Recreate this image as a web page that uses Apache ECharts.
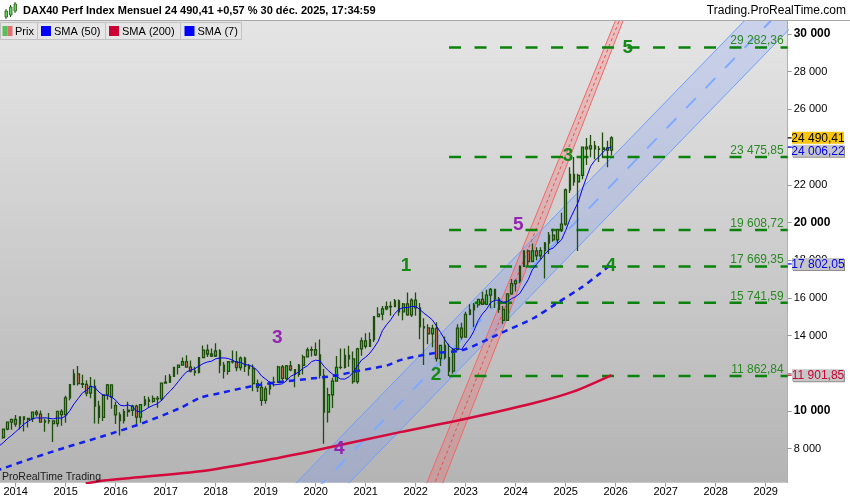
<!DOCTYPE html>
<html><head><meta charset="utf-8">
<script src="https://cdn.jsdelivr.net/npm/echarts@6/dist/echarts.min.js"></script>
<style>html,body{margin:0;padding:0;background:#fff}#c{width:850px;height:500px}</style>
</head><body><div id="c"></div>
<script>
// ---------- DATA ----------
const firstMonth = [2013, 10]; // first candle: Oct 2013, monthly
const open = [
 8594,9033,9405,
 9552,9306,9692,9556,9603,9943,9833,9407,9470,9474,9327,9980,
 9806,10694,11401,11966,11454,11413,10945,11309,10259,9660,10850,11382,
 10283,9798,9495,9966,10039,10263,9680,10337,10593,10511,10665,10640,
 11481,11535,11834,12313,12438,12615,12325,12118,12056,12829,13230,13024,
 12918,13189,12436,12097,12612,12605,12306,12806,12364,12247,11448,11257,
 10559,11173,11516,11526,12345,11727,12399,12189,11939,12428,12867,13236,
 13249,12982,11890,9936,10862,11587,12311,12313,12945,12761,11556,13291,
 13719,13433,13786,15008,15136,15421,15531,15544,15835,15261,15688,15100,
 15885,15471,14461,14415,14098,14388,12784,13484,12835,12114,13253,14397,
 13924,15128,15365,15629,15922,15664,16148,16447,15947,15387,14810,16215,
 16752,16904,17678,18492,17932,18498,18235,18509,18907,19325,19078,19626,
 19909,21732,22551,22163,22497,23997,23909,24065,23902,23881,23958,23837];
const high = [
 9050,9424,9594,
 9794,9717,9720,9643,9963,10050,10032,9601,9891,9515,9980,10093,
 10810,11401,12219,12391,11920,11635,11802,11670,10541,10908,11430,11392,
 10486,9937,10100,10486,10333,10336,10338,10802,10755,10827,10802,11482,
 11893,11959,12313,12456,12841,12951,12676,12345,12833,13479,13526,13314,
 13597,13271,12600,12640,13204,13170,12887,12873,12493,12461,11670,11566,
 11315,11581,11823,12398,12435,12438,12656,12190,12494,12988,13374,13425,
 13640,13795,12230,11230,11769,12913,13314,13310,13461,13161,13349,13903,
 14131,14169,15008,15502,15568,15803,15811,15939,15912,15727,16290,15979,
 16285,15736,14925,14597,14575,14709,13517,13948,13570,13339,14598,14676,
 15270,15658,15736,15922,16332,16427,16528,16470,16043,15575,16215,17003,
 16970,17678,18492,18567,18892,18692,18684,18970,19491,19675,19636,20523,
 21800,22935,23476,22580,24010,24479,24639,24320,24059,24771,24340,24580];
const low = [
 8534,8980,9000,
 9166,9017,8907,9120,9414,9710,9390,8903,9330,8355,9167,9219,
 9382,10566,11364,11350,11225,10780,10676,9338,9325,9469,10594,10124,
 9315,8699,9331,9700,9737,9214,9373,10256,10188,10443,10175,10530,
 11446,11479,11823,11935,12397,12292,12041,11868,11988,12829,12861,12861,
 12871,12003,11727,11928,12517,12104,12146,12068,11865,11051,11010,10279,
 10387,10864,11299,11507,11620,11620,12111,11266,11822,11938,12867,12886,
 12913,11725,8256,9395,10160,11571,12215,12253,12341,11450,11452,12927,
 13311,13430,13656,14980,14816,15350,15059,15530,15048,14818,15055,14982,
 15047,13807,12439,13535,13381,12618,12390,12733,11863,11976,13203,13792,
 13900,15080,14459,15482,15629,15649,15456,15469,15215,14630,14780,16173,
 16345,16781,17666,17715,17902,17991,18030,17024,18325,18976,18875,19501,
 19826,21569,21954,18490,22291,23051,23460,23351,23211,23439,22935,23551];
const close = [
 9033,9405,9552,
 9306,9692,9556,9603,9943,9833,9407,9470,9474,9327,9980,9806,
 10694,11401,11966,11454,11413,10945,11309,10259,9660,10850,11382,10743,
 9798,9495,9966,10039,10263,9680,10337,10593,10511,10665,10640,11481,
 11535,11834,12313,12438,12615,12325,12118,12056,12829,13230,13024,12918,
 13189,12436,12097,12612,12605,12306,12806,12364,12247,11448,11257,10559,
 11173,11516,11526,12345,11727,12399,12189,11939,12428,12867,13236,13249,
 12982,11890,9936,10862,11587,12311,12313,12945,12761,11556,13291,13719,
 13433,13786,15008,15136,15421,15531,15544,15835,15261,15688,15100,15885,
 15471,14461,14415,14098,14388,12784,13484,12835,12114,13253,14397,13924,
 15128,15365,15629,15922,15664,16148,16447,15947,15387,14810,16215,16752,
 16904,17678,18492,17932,18498,18235,18509,18907,19325,19078,19626,19909,
 21732,22551,22163,22497,23997,23909,24065,23902,23881,23958,23837,24490.41];
const seedCloses = [7795,7914,8349,7959,8276,8104,8594]; // Mar–Sep 2013 (for SMA 7)

const sma50Years  = [2013.6,2014.35,2015.03,2015.69,2016.49,2017.29,2017.69,2018.09,2018.75,2019.29,2020.35,2020.83,2021.43,2021.69,2022.35,2022.95,2023.69,2024.35,2024.82,2025.29,2025.69,2025.917];
const sma50Values = [6820,7510,8090,8620,9310,10160,10700,10950,11330,11540,11860,12120,12420,12700,13060,13240,14120,14920,15714,16510,17305,17802.05];
const sma200Years  = [2015.4,2015.69,2017.69,2019.03,2020.03,2021.69,2022.89,2024.35,2025.15,2025.917];
const sma200Values = [6150,6290,6800,7400,7930,8880,9520,10408,11024,11901.85];

const levels = [29282.36,23475.85,19608.72,17669.35,15741.59,11862.84];
const levelStart = 2022.667;

const blueUpper = [[2019.5,5888],[2029.6,33509]];
const blueMid   = [[2020.0,5806],[2029.6,32060]];
const blueLower = [[2020.5,5724],[2029.6,30610]];
const redLeft  = [[2022.15,5716],[2026.05,31069]];
const redMid   = [[2022.35,5970],[2026.10,30899]];
const redRight = [[2022.5,5895],[2026.2,31061]];

const greenWaveText = ['1','2','3','4','5'];
const greenWaveYears = [2021.806,2022.406,2025.046,2025.9,2026.24];
const greenWaveValues = [17692,11910,23528,17692,29294];
const purpleWaveText = ['3','4','5'];
const purpleWaveYears = [2019.232,2020.472,2024.052];
const purpleWaveValues = [13910,7984,19867];

const badgeValues = [24490.41,24006.22,17802.05,11901.85];
const yTickValues = [8000,10000,12000,14000,16000,18000,20000,22000,24000,26000,28000,30000];
const yLabelValues = [8000,10000,14000,16000,18000,20000,22000,26000,28000,30000];
const xTickYears = [2014,2015,2016,2017,2018,2019,2020,2021,2022,2023,2024,2025,2026,2027,2028,2029];

// ---------- BUILD ----------
const FONT = '"Liberation Sans", Arial, Helvetica, sans-serif';
const X_MIN = 2013.686, X_MAX = 2029.44, Y_MIN = 6196, Y_MAX = 30690;
const tOf = i => firstMonth[0] + (firstMonth[1] - 1 + i) / 12;
const candles = close.map((c, i) => [tOf(i), open[i], c, low[i], high[i]]);
const allC = seedCloses.concat(close);
const sma7 = [];
for (let j = 6; j < allC.length; j++) {
  let s = 0; for (let k = j - 6; k <= j; k++) s += allC[k];
  sma7.push([tOf(j - seedCloses.length), s / 7]);
}
const zip = (a, b) => a.map((v, i) => [v, b[i]]);
function fmtInt(v){ return String(Math.round(v)).replace(/\B(?=(\d{3})+(?!\d))/g, ' '); }
function fmtDec(v){ const p = v.toFixed(2).split('.'); return p[0].replace(/\B(?=(\d{3})+(?!\d))/g,' ') + ',' + p[1]; }

function band(a, b, fill){
  return { type:'custom', coordinateSystem:'cartesian2d', clip:true, silent:true, z:1,
    data:[[a[0][0], a[0][1]]], encode:{x:0,y:1},
    renderItem:(params, api) => ({ type:'polygon',
      shape:{ points:[a[0],a[1],b[1],b[0]].map(p => api.coord(p)) },
      style:{ fill } }) };
}
function seg(pts, color, width, type, z){
  return { type:'line', data:pts, symbol:'none', silent:true, z:z||2, animation:false,
    lineStyle:{ color, width, type } };
}

const series = [
  band(blueUpper, blueLower, 'rgba(105,145,255,0.22)'),
  band(redLeft, redRight, 'rgba(255,80,80,0.24)'),
  seg(blueUpper, '#6f9fff', 1, 'solid'),
  seg(blueLower, '#6f9fff', 1, 'solid'),
  seg(blueMid, '#7fabff', 2, [14,14]),
  seg(redLeft, '#f06868', 1, 'solid'),
  seg(redRight, '#f06868', 1, 'solid'),
  seg(redMid, '#e05050', 1, [3,3]),
];
levels.forEach(v => series.push(seg([[levelStart, v],[X_MAX, v]], '#0b820b', 2.5, [12,13.5], 3)));
series.push({ type:'candlestick', data:candles, encode:{x:0,y:[1,2,3,4]}, barWidth:2.2, z:5,
  silent:true, animation:false,
  itemStyle:{ color:'#4fd84f', color0:'#ee7a68', borderColor:'#1f4d0c', borderColor0:'#1f4d0c', borderWidth:1.3 } });
series.push({ type:'line', data:zip(sma200Years, sma200Values), symbol:'none', smooth:0.3, z:6, silent:true, animation:false,
  lineStyle:{ color:'#d40a3c', width:2.5 } });
series.push({ type:'line', data:zip(sma50Years, sma50Values), symbol:'none', smooth:0.3, z:6, silent:true, animation:false,
  lineStyle:{ color:'#1020f0', width:2.5, type:[6,5] } });
series.push({ type:'line', data:sma7, symbol:'none', z:7, silent:true, animation:false,
  lineStyle:{ color:'#0000ff', width:1 } });
function waves(txt, yrs, vals, color){
  return { type:'scatter', symbolSize:1, z:10, silent:true, animation:false,
    itemStyle:{ color:'rgba(0,0,0,0)', opacity:1 },
    data: txt.map((t,i) => ({ name:t, value:[yrs[i], vals[i]] })),
    label:{ show:true, position:'inside', formatter:'{b}', color, opacity:1, fontSize:19, fontWeight:'bold', fontFamily:FONT } };
}
series.push(waves(greenWaveText, greenWaveYears, greenWaveValues, '#168a16'));
series.push(waves(purpleWaveText, purpleWaveYears, purpleWaveValues, '#9424b0'));

const chart = echarts.init(document.getElementById('c'));
chart.setOption({
  animation:false,
  grid:{ left:0, right:62.3, top:21, bottom:17.3, show:true, borderWidth:0, outerBoundsMode:'none',
    backgroundColor:{ type:'linear', x:0, y:0, x2:0, y2:1,
      colorStops:[{offset:0,color:'#e5e5e5'},{offset:1,color:'#b4b4b4'}] } },
  xAxis:{ type:'value', min:X_MIN, max:X_MAX, splitLine:{show:false},
    axisLine:{show:false},
    axisTick:{ show:true, length:4, customValues:xTickYears, lineStyle:{color:'#999'} },
    axisLabel:{ customValues:xTickYears, formatter:v => String(Math.round(v)), color:'#000',
      fontSize:11, fontFamily:FONT, margin:4 } },
  yAxis:{ type:'value', position:'right', min:Y_MIN, max:Y_MAX, splitLine:{show:false},
    axisLine:{ show:true, lineStyle:{ color:'#b0b0b0', width:1 } },
    axisTick:{ show:true, length:4, customValues:yTickValues, lineStyle:{ color:'#999' } },
    axisLabel:{ customValues:yLabelValues, margin:6, color:'#000', fontSize:11, fontFamily:FONT,
      formatter:v => (v % 10000 === 0 ? '{b|' + fmtInt(v) + '}' : fmtInt(v)),
      rich:{ b:{ fontWeight:'bold', fontSize:12, color:'#000', fontFamily:FONT } } } },
  series
});

// ---------- ANNOTATIONS (positions via the chart's own scales) ----------
const g = [];
const gridRight = chart.convertToPixel({xAxisIndex:0}, X_MAX);
// title bar
g.push({ type:'rect', shape:{x:0,y:0,width:850,height:20.5}, style:{fill:'#fff'}, z:100 });
g.push({ type:'line', shape:{x1:0,y1:20.5,x2:850,y2:20.5}, style:{stroke:'#a8a8a8', lineWidth:1}, z:101 });
[[5,11,6],[9.5,7,8],[14,4,7]].forEach(c => {
  g.push({ type:'line', shape:{x1:c[0]+1,y1:c[1]-2,x2:c[0]+1,y2:c[1]+c[2]+2}, style:{stroke:'#2b5812',lineWidth:1}, z:101 });
  g.push({ type:'rect', shape:{x:c[0],y:c[1],width:2.5,height:c[2]}, style:{fill:'#58d858', stroke:'#2b5812', lineWidth:0.8}, z:102 });
});
g.push({ type:'text', x:23, y:10.5, style:{ text:'DAX40 Perf Index Mensuel 24 490,41 +0,57 % 30 déc. 2025, 17:34:59',
  font:'bold 11px ' + FONT, fill:'#000', verticalAlign:'middle' }, z:102 });
g.push({ type:'text', x:846, y:11, style:{ text:'Trading.ProRealTime.com', font:'12px ' + FONT, fill:'#000',
  align:'right', verticalAlign:'middle' }, z:102 });
// legend boxes
const lg = [
  { x:0.5, w:37, label:'Prix', tx:15 },
  { x:37.5, w:68, label:'SMA (50)', tx:54, col:'#0000ff' },
  { x:105.5, w:75, label:'SMA (200)', tx:122, col:'#cc0033' },
  { x:180.5, w:61, label:'SMA (7)', tx:197.5, col:'#0000ff' }];
lg.forEach(b => {
  g.push({ type:'rect', shape:{x:b.x, y:22.5, width:b.w, height:17}, style:{ fill:'#e6e6e6', stroke:'#c2c2c2', lineWidth:1 }, z:100 });
  if (b.col) g.push({ type:'rect', shape:{x:b.tx-13, y:26, width:10, height:10}, style:{fill:b.col}, z:101 });
  g.push({ type:'text', x:b.tx, y:31.5, style:{ text:b.label, font:'11px ' + FONT, fill:'#000', verticalAlign:'middle' }, z:101 });
});
g.push({ type:'rect', shape:{x:2.5,y:26,width:5,height:10}, style:{fill:'#58c058'}, z:101 });
g.push({ type:'rect', shape:{x:7.5,y:26,width:5,height:10}, style:{fill:'#e07070'}, z:101 });
// footer brand
g.push({ type:'text', x:2, y:477, style:{ text:'ProRealTime Trading', font:'10.5px ' + FONT, fill:'#1a1a1a', verticalAlign:'middle' }, z:50 });
// level labels
levels.forEach(v => {
  const y = chart.convertToPixel({yAxisIndex:0}, v);
  g.push({ type:'text', x:gridRight - 4, y:y - 0.5, style:{ text:fmtDec(v), font:'12px ' + FONT, fill:'#2a8a22',
    align:'right', verticalAlign:'bottom' }, z:40 });
});
// right-axis badges
const badgeStyle = [
  { fill:'#f9c60c', text:'#000', tick:'#000' },
  { fill:'#c6c6c6', text:'#0000ee', tick:'#0000ff', shadow:true },
  { fill:'#c6c6c6', text:'#0000ee', tick:'#0000ff', shadow:true },
  { fill:'#c6c6c6', text:'#cc0033', tick:'#cc0033', shadow:true }];
let prevBottom = -1e9;
badgeValues.forEach((v, i) => {
  const yv = chart.convertToPixel({yAxisIndex:0}, v);
  let top = yv - 6; if (top < prevBottom + 1) top = prevBottom + 1; prevBottom = top + 12;
  const st = badgeStyle[i];
  g.push({ type:'line', shape:{x1:gridRight, y1:yv, x2:gridRight+4, y2:yv}, style:{stroke:st.tick, lineWidth:1.2}, z:60 });
  if (st.shadow) g.push({ type:'rect', shape:{x:793, y:top+1, width:52, height:12}, style:{fill:'#8e8e8e'}, z:60 });
  g.push({ type:'rect', shape:{x:792, y:top, width:52, height:12}, style:{fill:st.fill}, z:61 });
  g.push({ type:'text', x:818, y:top + 6.5, style:{ text:fmtDec(v), font:'12px ' + FONT, fill:st.text,
    align:'center', verticalAlign:'middle' }, z:62 });
});
chart.setOption({ graphic: g });
</script>
</body></html>
